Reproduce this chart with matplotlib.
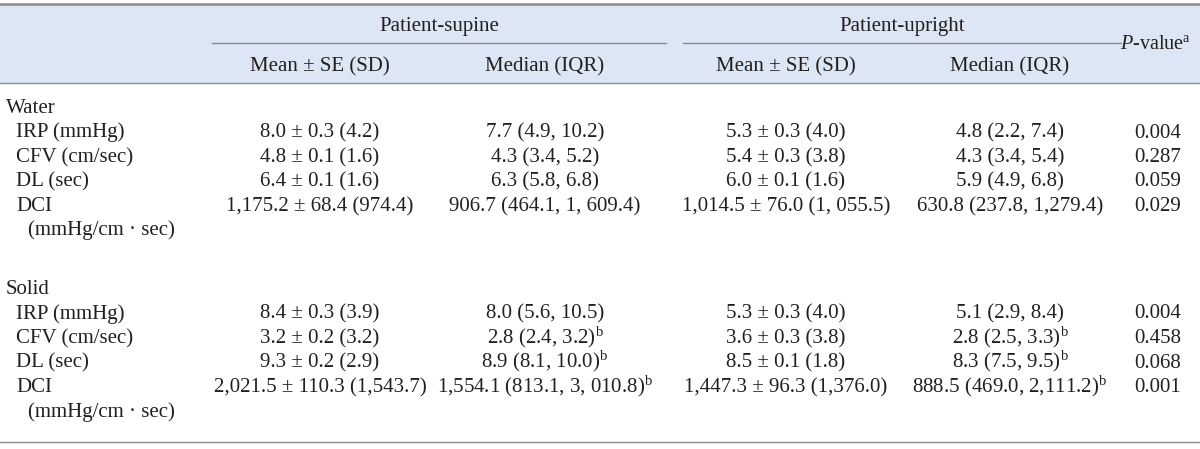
import matplotlib.pyplot as plt
from matplotlib.patches import Rectangle

plt.rcParams['font.family'] = ['Liberation Serif', 'DejaVu Serif']
plt.rcParams['mathtext.fontset'] = 'custom'
plt.rcParams['mathtext.rm'] = 'Liberation Serif'
plt.rcParams['mathtext.it'] = 'Liberation Serif:italic'

# Table content
groups = ['Water', 'Solid']
params = ['IRP (mmHg)', 'CFV (cm/sec)', 'DL (sec)', 'DCI']
dci_unit = '(mmHg/cm \u00b7 sec)'
col_groups = ['Patient-supine', 'Patient-upright']
sub_cols = ['Mean \u00b1 SE (SD)', 'Median (IQR)']
p_label = '$\\mathit{P}$-value$^{\\mathrm{a}}$'

water_supine_mean = ['8.0 \u00b1 0.3 (4.2)', '4.8 \u00b1 0.1 (1.6)', '6.4 \u00b1 0.1 (1.6)',
                     '1,175.2 \u00b1 68.4 (974.4)']
water_supine_median = ['7.7 (4.9, 10.2)', '4.3 (3.4, 5.2)', '6.3 (5.8, 6.8)',
                       '906.7 (464.1, 1, 609.4)']
water_upright_mean = ['5.3 \u00b1 0.3 (4.0)', '5.4 \u00b1 0.3 (3.8)', '6.0 \u00b1 0.1 (1.6)',
                      '1,014.5 \u00b1 76.0 (1, 055.5)']
water_upright_median = ['4.8 (2.2, 7.4)', '4.3 (3.4, 5.4)', '5.9 (4.9, 6.8)',
                        '630.8 (237.8, 1,279.4)']
water_p = ['0.004', '0.287', '0.059', '0.029']

solid_supine_mean = ['8.4 \u00b1 0.3 (3.9)', '3.2 \u00b1 0.2 (3.2)', '9.3 \u00b1 0.2 (2.9)',
                     '2,021.5 \u00b1 110.3 (1,543.7)']
solid_supine_median = ['8.0 (5.6, 10.5)', '2.8 (2.4, 3.2)$^{\\mathrm{b}}$',
                       '8.9 (8.1, 10.0)$^{\\mathrm{b}}$', '1,554.1 (813.1, 3, 010.8)$^{\\mathrm{b}}$']
solid_upright_mean = ['5.3 \u00b1 0.3 (4.0)', '3.6 \u00b1 0.3 (3.8)', '8.5 \u00b1 0.1 (1.8)',
                      '1,447.3 \u00b1 96.3 (1,376.0)']
solid_upright_median = ['5.1 (2.9, 8.4)', '2.8 (2.5, 3.3)$^{\\mathrm{b}}$',
                        '8.3 (7.5, 9.5)$^{\\mathrm{b}}$', '888.5 (469.0, 2,111.2)$^{\\mathrm{b}}$']
solid_p = ['0.004', '0.458', '0.068', '0.001']

blocks = [
    (water_supine_mean, water_supine_median, water_upright_mean, water_upright_median, water_p),
    (solid_supine_mean, solid_supine_median, solid_upright_mean, solid_upright_median, solid_p),
]

# layout (pixels)
W, H = 1200, 449
text_color = '#231f20'
line_color = '#8c8c8c'
header_bg = '#dce6f4'
fs = 15
base = 7  # baseline offset below row centre
col_x = [320, 545, 786, 1010, 1158]
group_x = [(212, 666), (683, 1121)]
group_top = [106, 287]
row_step = 24.5

fig = plt.figure(figsize=(W / 100, H / 100), dpi=100)
ax = fig.add_axes([0, 0, 1, 1])
ax.set_xlim(0, W)
ax.set_ylim(H, 0)
ax.axis('off')


def put(x, y, s, ha='left', size=fs):
    ax.text(x, y + base, s, ha=ha, va='baseline', fontsize=size, color=text_color)


# header band
ax.add_patch(Rectangle((0, 4), W, 79, facecolor=header_bg, edgecolor='none'))
ax.plot([0, W], [4, 4], color=line_color, lw=1.8)
ax.plot([0, W], [83, 83], color=line_color, lw=1.0)
ax.plot([0, W], [442, 442], color=line_color, lw=1.0)

for (x0, x1), name in zip(group_x, col_groups):
    ax.plot([x0, x1], [43, 43], color=line_color, lw=1.0)
    put((x0 + x1) / 2, 24, name, ha='center')

for i, cx in enumerate(col_x[:4]):
    put(cx, 64, sub_cols[i % 2], ha='center')
put(col_x[4] - 3, 42, p_label, ha='center', size=14.5)

for g, (name, block) in enumerate(zip(groups, blocks)):
    y0 = group_top[g]
    put(6, y0, name)
    for r, label in enumerate(params):
        y = y0 + (r + 1) * row_step
        put(16, y, label)
        for c, col in enumerate(block):
            put(col_x[c], y, col[r], ha='center')
    put(28, y0 + 5 * row_step, dci_unit)

fig.savefig('out.png', dpi=100, facecolor='white')
